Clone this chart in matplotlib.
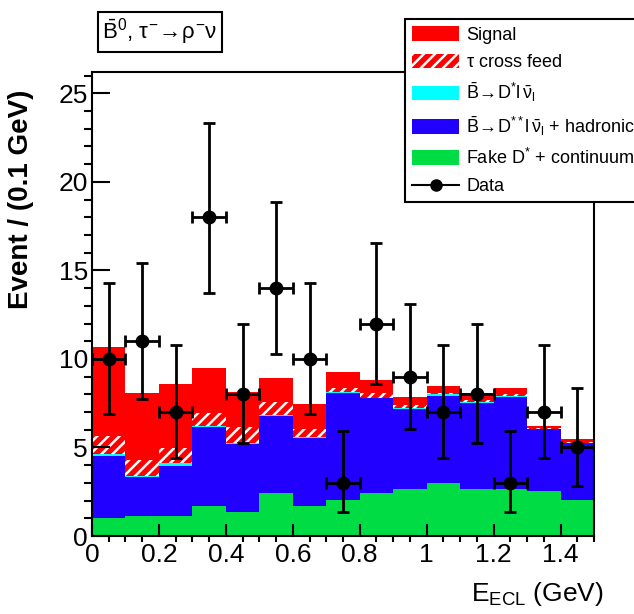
import numpy as np
import matplotlib
matplotlib.use("Agg")
import matplotlib.pyplot as plt
from matplotlib.patches import Patch
from matplotlib.lines import Line2D
from matplotlib.ticker import MultipleLocator, FuncFormatter

plt.rcParams["font.family"] = ["Liberation Sans", "DejaVu Sans"]
plt.rcParams["mathtext.fontset"] = "custom"
plt.rcParams["mathtext.rm"] = "Liberation Sans"
plt.rcParams["mathtext.it"] = "Liberation Sans"
plt.rcParams["mathtext.bf"] = "Liberation Sans:bold"
plt.rcParams["hatch.linewidth"] = 1.8

# E_ECL bins, 0.1 GeV wide
bin_edges = np.linspace(0.0, 1.5, 16)

# stacked MC components (events per bin), bottom to top
fake_cont = [1.00, 1.13, 1.13, 1.71, 1.34, 2.41, 1.71, 2.03, 2.41, 2.65, 2.98, 2.65, 2.65, 2.54, 2.03]
dss_had = [3.54, 2.22, 2.82, 4.43, 3.86, 4.39, 3.84, 6.07, 5.37, 4.53, 4.93, 4.88, 5.22, 3.49, 3.21]
ds_lnu = [0.08, 0.03, 0.19, 0.09, 0.03, 0.03, 0.03, 0.03, 0.03, 0.03, 0.09, 0.03, 0.03, 0.03, 0.03]
tau_xfeed = [1.05, 0.92, 0.85, 0.74, 0.91, 0.72, 0.47, 0.25, 0.25, 0.19, 0.05, 0.12, 0.10, 0.03, 0.03]
signal = [5.03, 3.80, 3.58, 2.53, 1.98, 1.39, 1.39, 0.90, 0.75, 0.47, 0.42, 0.38, 0.34, 0.14, 0.16]

# data with asymmetric errors
data = [10, 11, 7, 18, 8, 14, 10, 3, 12, 9, 7, 8, 3, 7, 5]
err_lo = [3.11, 3.27, 2.58, 4.25, 2.77, 3.70, 3.11, 1.63, 3.42, 2.94, 2.58, 2.77, 1.63, 2.58, 2.16]
err_hi = [4.27, 4.42, 3.77, 5.30, 3.95, 4.84, 4.27, 2.92, 4.57, 4.11, 3.77, 3.95, 2.92, 3.77, 3.38]

components = [
    (fake_cont, "#00dd44", None, r"Fake D$^{*}$ + continuum"),
    (dss_had, "#2200ff", None, r"$\bar{\mathrm{B}}\!\rightarrow\!\mathrm{D^{**}l}\,\bar{\nu}_{\mathrm{l}}$ + hadronic B"),
    (ds_lnu, "#00ffff", None, r"$\bar{\mathrm{B}}\!\rightarrow\!\mathrm{D^{*}l}\,\bar{\nu}_{\mathrm{l}}$"),
    (tau_xfeed, "#ff0000", "///", r"$\tau$ cross feed"),
    (signal, "#ff0000", None, "Signal"),
]

fig = plt.figure(figsize=(6.34, 6.14), dpi=100)
ax = fig.add_axes([0.1451, 0.1270, 0.7918, 0.7557])

widths = np.diff(bin_edges)
bottom = np.zeros(len(data))
handles = {}
for vals, color, hatch, label in components:
    if hatch:
        ax.bar(bin_edges[:-1], vals, width=widths, bottom=bottom, align="edge",
               facecolor=color, edgecolor="white", hatch=hatch, linewidth=0)
        handles[label] = Patch(facecolor=color, edgecolor="white", hatch=hatch, linewidth=0)
    else:
        ax.bar(bin_edges[:-1], vals, width=widths, bottom=bottom, align="edge",
               color=color, linewidth=0)
        handles[label] = Patch(facecolor=color, linewidth=0)
    bottom += np.array(vals)

centers = 0.5 * (bin_edges[:-1] + bin_edges[1:])
ax.errorbar(centers, data, yerr=[err_lo, err_hi], xerr=widths / 2, fmt="o",
            color="black", ms=9, elinewidth=2, capsize=4, capthick=2, zorder=5)

ax.set_xlim(0, 1.5)
ax.set_ylim(0, 26.2)
ax.xaxis.set_major_locator(MultipleLocator(0.2))
ax.xaxis.set_minor_locator(MultipleLocator(0.05))
ax.yaxis.set_major_locator(MultipleLocator(5))
ax.yaxis.set_minor_locator(MultipleLocator(1))
ax.xaxis.set_major_formatter(FuncFormatter(lambda v, p: "%g" % round(v, 2)))
ax.tick_params(direction="in", labelsize=19, width=1.5, top=False, right=False)
ax.tick_params(axis="y", which="major", length=13, pad=3)
ax.tick_params(axis="y", which="minor", length=6, width=1.5)
ax.tick_params(axis="x", which="major", length=9, pad=5)
ax.tick_params(axis="x", which="minor", length=4, width=1.5)
for s in ax.spines.values():
    s.set_linewidth(1.5)

ax.set_xlabel(r"E$_{\mathrm{ECL}}$ (GeV)", fontsize=19, loc="right", labelpad=4)
ax.xaxis.set_label_coords(1.02, -0.095)
ax.set_ylabel("Event / (0.1 GeV)", fontsize=20, fontweight="bold", loc="top")
ax.yaxis.set_label_coords(-0.115, 0.961)

# channel tag in the upper left
fig.text(0.161, 0.948, r"$\bar{\mathrm{B}}^{0}$, $\tau^{-}\!\rightarrow\!\rho^{-}\nu$", fontsize=16,
         va="center", ha="left",
         bbox=dict(boxstyle="square,pad=0.2", facecolor="white", edgecolor="black", linewidth=1.5))

order = ["Signal", r"$\tau$ cross feed", components[2][3], components[1][3], components[0][3]]
leg_handles = [handles[k] for k in order]
leg_handles.append(Line2D([], [], color="black", marker="o", ms=8, lw=1.5))
leg = fig.legend(leg_handles, order + ["Data"], loc="upper left",
                 bbox_to_anchor=(405 / 634, 1 - 19 / 614), borderaxespad=0,
                 fontsize=13, frameon=True, fancybox=False, framealpha=1,
                 edgecolor="black", handlelength=2.6, handleheight=0.85,
                 labelspacing=0.55, handletextpad=0.4, borderpad=0.4)
leg.get_frame().set_linewidth(1.5)

fig.savefig("out.png", dpi=100)
